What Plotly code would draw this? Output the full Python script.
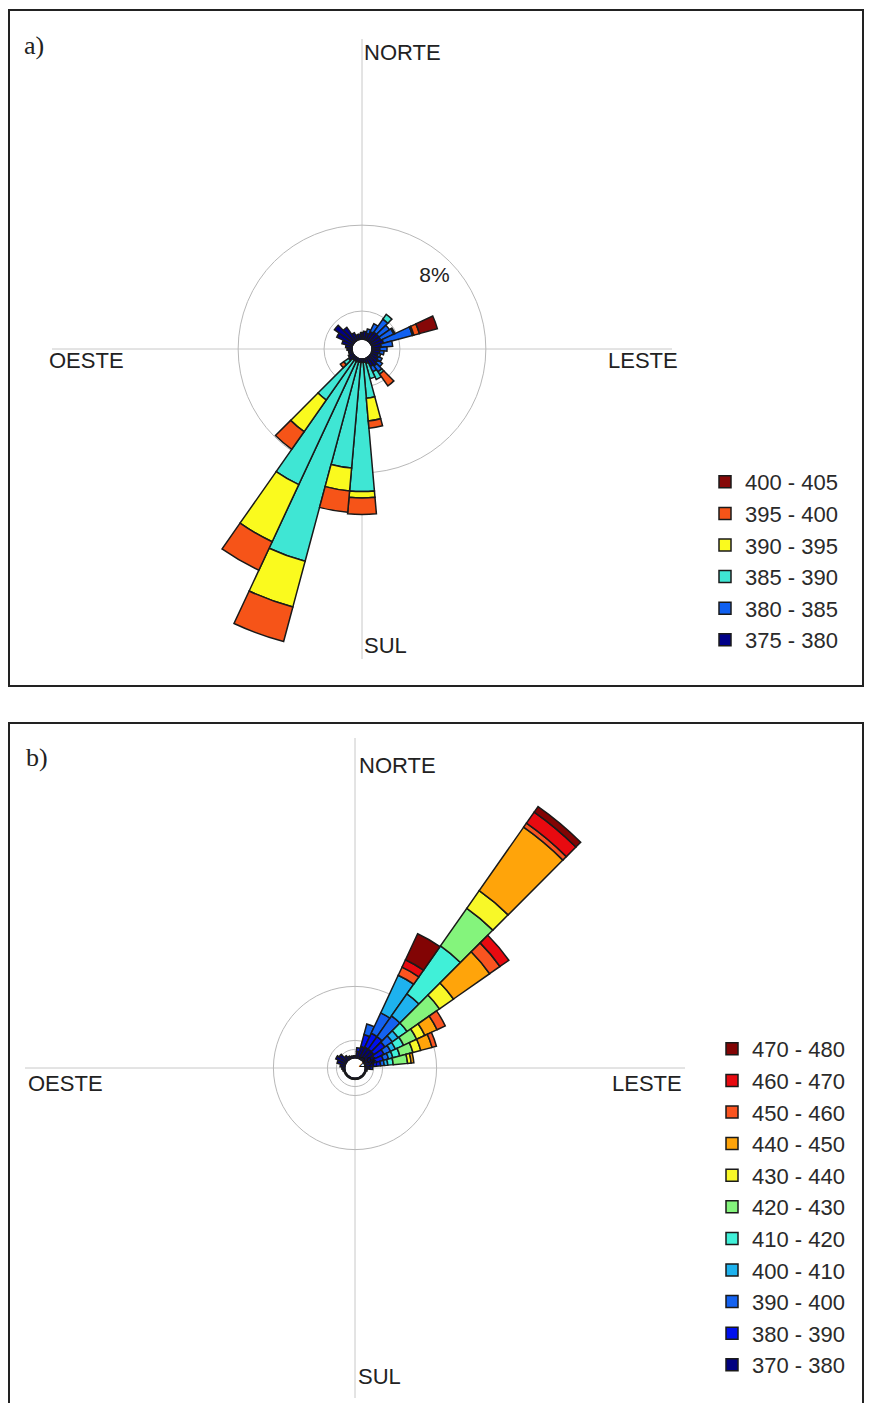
import plotly.graph_objects as go

# the page adds an 8 px body margin, so the figure is drawn 8 px in from the window
OX, OY = 8, 8
FW, FH = 856, 1395

# wind directions (deg, clockwise from north), 10 degree sectors
dirs = list(range(0, 360, 10))

# ---- panel a) : frequency (%) per direction for each concentration class
classes_a = ['375 - 380', '380 - 385', '385 - 390', '390 - 395', '395 - 400', '400 - 405']
colors_a = ['#000088', '#1060F0', '#3FE6D4', '#FAFA1E', '#F65418', '#860808']

a_375 = [0.5, 0.6, 0.5, 0.7, 0.8, 0.8, 0.8, 0.9, 0.7, 0.6, 0.6, 0.5,
         0.6, 0.7, 0.8, 0.7, 0.4, 0.3, 0.3, 0.3, 0.3, 0.3, 0.3, 0.5,
         0.4, 0.3, 0.3, 0.4, 0.5, 0.8, 1.3, 1.7, 1.2, 0.6, 0.4, 0.4]
a_380 = [0, 0, 0.3, 0.6, 1.1, 0.9, 1.0, 2.1, 0.8, 0.5, 0.3, 0.2,
         0.3, 0.4, 0.5, 0.4, 0, 0, 0, 0, 0, 0, 0, 0,
         0, 0, 0, 0, 0, 0, 0, 0, 0, 0, 0, 0]
a_385 = [0, 0, 0, 0, 0.4, 0, 0.1, 0.1, 0, 0, 0, 0,
         0, 0, 0.2, 0.6, 1.1, 2.5, 9.0, 7.4, 14.4, 9.5, 3.4, 0.4,
         0, 0, 0, 0, 0, 0, 0, 0, 0, 0, 0, 0]
a_390 = [0, 0, 0, 0, 0, 0, 0, 0, 0, 0, 0, 0,
         0, 0, 0, 0, 0, 1.6, 0.45, 1.6, 3.3, 4.4, 2.7, 0,
         0, 0, 0, 0, 0, 0, 0, 0, 0, 0, 0, 0]
a_395 = [0, 0, 0, 0, 0, 0, 0, 0.4, 0, 0, 0, 0,
         0, 0, 1.0, 0, 0, 0.5, 1.15, 1.5, 2.5, 2.2, 1.5, 0.3,
         0, 0, 0, 0, 0, 0, 0, 0, 0, 0, 0, 0]
a_400 = [0, 0, 0, 0, 0, 0, 0, 1.3, 0, 0, 0, 0,
         0, 0, 0, 0, 0, 0, 0, 0, 0, 0, 0, 0,
         0, 0, 0, 0, 0, 0, 0, 0, 0, 0, 0, 0]
series_a = [a_375, a_380, a_385, a_390, a_395, a_400]

# ---- panel b)
classes_b = ['370 - 380', '380 - 390', '390 - 400', '400 - 410', '410 - 420', '420 - 430',
             '430 - 440', '440 - 450', '450 - 460', '460 - 470', '470 - 480']
colors_b = ['#000080', '#0010EE', '#1462F0', '#1EB2EE', '#40F0D8', '#84F47C',
            '#F8F828', '#FFA40A', '#FA5420', '#E80A10', '#820404']

b_370 = [0.3, 0.8, 1.4, 1.5, 1.5, 1.5, 1.3, 1.2, 1.0, 0.6, 0.3, 0.2,
         0.2, 0.2, 0.2, 0.2, 0.2, 0.2, 0.2, 0.2, 0.2, 0.2, 0.2, 0.2,
         0.2, 0.2, 0.3, 0.4, 0.6, 1.0, 1.3, 1.1, 0.6, 0.4, 0.3, 0.3]
b_380 = [0, 0.4, 1.4, 1.7, 1.7, 1.5, 1.2, 1.0, 0.8, 0.3, 0, 0,
         0, 0, 0, 0, 0, 0, 0, 0, 0, 0, 0, 0,
         0, 0, 0, 0, 0, 0, 0, 0, 0, 0, 0, 0]
b_390 = [0, 0, 1.2, 2.5, 2.8, 1.0, 0.8, 0.6, 0.4, 0, 0, 0,
         0, 0, 0, 0, 0, 0, 0, 0, 0, 0, 0, 0,
         0, 0, 0, 0, 0, 0, 0, 0, 0, 0, 0, 0]
b_400 = [0, 0, 0, 4.6, 3.0, 0.8, 0.6, 0.5, 0.4, 0, 0, 0,
         0, 0, 0, 0, 0, 0, 0, 0, 0, 0, 0, 0,
         0, 0, 0, 0, 0, 0, 0, 0, 0, 0, 0, 0]
b_410 = [0, 0, 0, 0, 6.5, 1.2, 1.0, 0.8, 0.6, 0, 0, 0,
         0, 0, 0, 0, 0, 0, 0, 0, 0, 0, 0, 0,
         0, 0, 0, 0, 0, 0, 0, 0, 0, 0, 0, 0]
b_420 = [0, 0, 0, 0, 5.1, 4.4, 1.6, 1.5, 1.6, 0, 0, 0,
         0, 0, 0, 0, 0, 0, 0, 0, 0, 0, 0, 0,
         0, 0, 0, 0, 0, 0, 0, 0, 0, 0, 0, 0]
b_430 = [0, 0, 0, 0, 2.4, 1.9, 1.0, 0.9, 0.4, 0, 0, 0,
         0, 0, 0, 0, 0, 0, 0, 0, 0, 0, 0, 0,
         0, 0, 0, 0, 0, 0, 0, 0, 0, 0, 0, 0]
b_440 = [0, 0, 0, 0, 8.6, 4.9, 1.5, 1.3, 0.3, 0, 0, 0,
         0, 0, 0, 0, 0, 0, 0, 0, 0, 0, 0, 0,
         0, 0, 0, 0, 0, 0, 0, 0, 0, 0, 0, 0]
b_450 = [0, 0, 0, 1.0, 0.55, 1.4, 1.0, 0.5, 0, 0, 0, 0,
         0, 0, 0, 0, 0, 0, 0, 0, 0, 0, 0, 0,
         0, 0, 0, 0, 0, 0, 0, 0, 0, 0, 0, 0]
b_460 = [0, 0, 0, 0.9, 1.5, 1.2, 0, 0, 0, 0, 0, 0,
         0, 0, 0, 0, 0, 0, 0, 0, 0, 0, 0, 0,
         0, 0, 0, 0, 0, 0, 0, 0, 0, 0, 0, 0]
b_470 = [0, 0, 0, 3.2, 0.75, 0, 0, 0, 0, 0, 0, 0,
         0, 0, 0, 0, 0, 0, 0, 0, 0, 0, 0, 0,
         0, 0, 0, 0, 0, 0, 0, 0, 0, 0, 0, 0]
series_b = [b_370, b_380, b_390, b_400, b_410, b_420, b_430, b_440, b_450, b_460, b_470]

# grid circles (%)
rings_a = [2, 8]
rings_b = [1, 2, 8]


# page pixel -> paper fraction
def px(x):
    return (x - OX) / FW


def py(y):
    return 1 - (y - OY) / FH


edge = dict(color='#1a1a1a', width=1.5)
fig = go.Figure()

for name, vals, col in zip(classes_a, series_a, colors_a):
    fig.add_trace(go.Barpolar(r=[v if v else None for v in vals], theta=dirs, name=name,
                              marker=dict(color=col, line=edge),
                              subplot='polar', legend='legend'))
fig.add_trace(go.Scatterpolar(r=[6.5], theta=[45], mode='text', text=['8%'],
                              textfont=dict(family='Liberation Sans, Arial, sans-serif',
                                            size=21, color='#222'),
                              subplot='polar', showlegend=False, hoverinfo='skip'))

for name, vals, col in zip(classes_b, series_b, colors_b):
    fig.add_trace(go.Barpolar(r=[v if v else None for v in vals], theta=dirs, name=name,
                              marker=dict(color=col, line=edge),
                              subplot='polar2', legend='legend2'))
fig.add_trace(go.Scatterpolar(r=[0.5], theta=[70], mode='text', text=['2%'],
                              textfont=dict(size=14, color='#111'),
                              subplot='polar2', showlegend=False, hoverinfo='skip'))

grid = '#b8b8b8'


def polar_layout(xd, yd, rmax, hole, rings):
    return dict(
        domain=dict(x=xd, y=yd),
        hole=hole,
        bgcolor='rgba(0,0,0,0)',
        barmode='stack',
        bargap=0,
        radialaxis=dict(range=[0, rmax], tickvals=rings, showticklabels=False,
                        showline=False, ticks='', gridcolor=grid, gridwidth=1),
        angularaxis=dict(rotation=90, direction='clockwise', tickvals=[0, 90, 180, 270],
                         showticklabels=False, showline=False, ticks='',
                         gridcolor='#c8c8c8', gridwidth=1),
    )


# polar a: centre (362, 349), radius 310 px ; polar b: centre (355, 1068), radius 330 px
polar_a = polar_layout([px(52), px(672)], [py(659), py(39)], 21.0, 0.03, rings_a)
polar_b = polar_layout([px(25), px(685)], [py(1398), py(738)], 35.6, 0.029, rings_b)

lfont = dict(family='Liberation Sans, Arial, sans-serif', size=22, color='#2a2a2a')
txt = dict(family='Liberation Sans, Arial, sans-serif', size=22, color='#222')
serif = dict(family='Liberation Serif, Times New Roman, serif', size=26, color='#222')

labels = [
    ('a)', 22, 45, serif), ('NORTE', 402, 52, txt), ('OESTE', 86, 361, txt),
    ('LESTE', 643, 361, txt), ('SUL', 385, 645, txt),
    ('b)', 24, 757, serif), ('NORTE', 397, 765, txt), ('OESTE', 66, 1083, txt),
    ('LESTE', 647, 1083, txt), ('SUL', 379, 1376, txt),
]
annotations = [dict(text=t, x=px(x), y=py(y), xref='paper', yref='paper',
                    xanchor='center' if t[-1] != ')' else 'left', yanchor='middle',
                    showarrow=False, font=f) for t, x, y, f in labels]

boxes = [dict(type='rect', xref='paper', yref='paper', x0=px(9), x1=px(863),
              y0=py(686), y1=py(10), line=dict(color='#222', width=2)),
         dict(type='rect', xref='paper', yref='paper', x0=px(9), x1=px(863),
              y0=py(1410), y1=py(723), line=dict(color='#222', width=2))]

fig.update_layout(
    width=FW, height=FH,
    margin=dict(l=0, r=0, t=0, b=0),
    paper_bgcolor='white',
    plot_bgcolor='white',
    polar=polar_a,
    polar2=polar_b,
    legend=dict(x=px(705), y=py(461), xanchor='left', yanchor='top',
                traceorder='reversed', font=lfont, bgcolor='rgba(0,0,0,0)'),
    legend2=dict(x=px(712), y=py(1028), xanchor='left', yanchor='top',
                 traceorder='reversed', font=lfont, bgcolor='rgba(0,0,0,0)'),
    annotations=annotations,
    shapes=boxes,
)

fig.write_html("out.html")
